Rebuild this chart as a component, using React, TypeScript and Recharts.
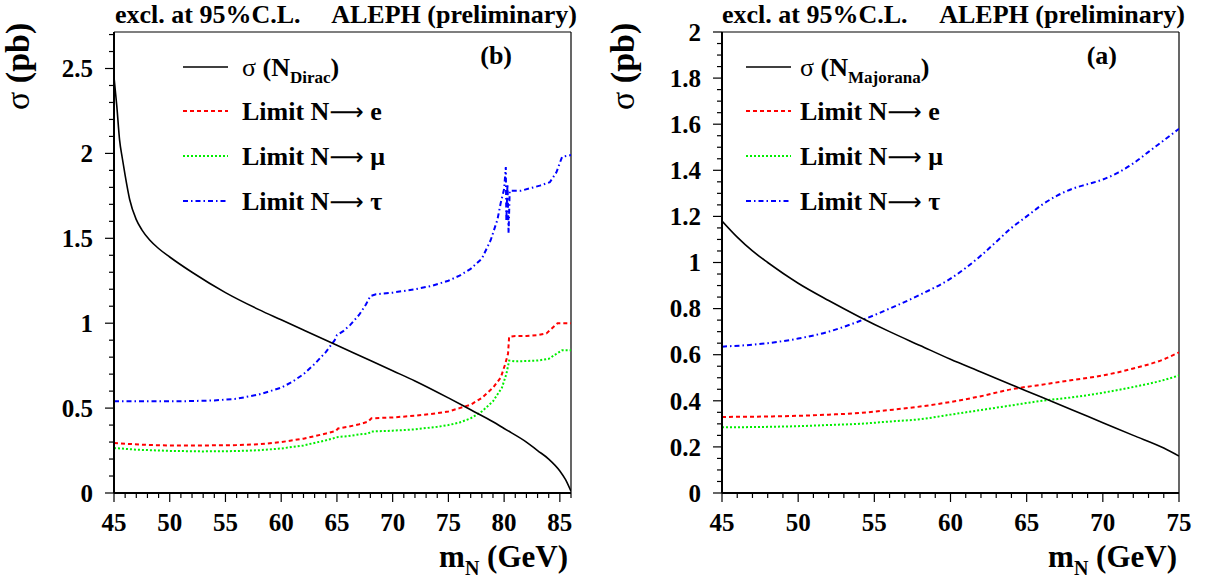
import { Line, LineChart, ReferenceLine, XAxis, YAxis } from 'recharts';

const FONT = "'Liberation Serif', 'Times New Roman', Times, 'DejaVu Serif', serif";

// (b) Dirac neutrino, m_N in GeV vs sigma in pb
const diracSigma: [number, number][] = [
  [45, 2.45], [45.25, 2.28], [45.5, 2.08], [45.75, 1.97], [46, 1.87], [46.4, 1.73], [47, 1.61],
  [47.5, 1.55], [48.2, 1.49], [49, 1.44], [50, 1.39], [52, 1.3], [55, 1.18], [58, 1.08],
  [60, 1.02], [62, 0.96], [65, 0.87], [68, 0.78], [70, 0.72], [72, 0.66], [75, 0.56],
  [77, 0.49], [79, 0.42], [80, 0.38], [82, 0.3], [83, 0.25], [84, 0.2], [85, 0.13],
  [85.5, 0.08], [86, 0.01]
];
const diracE: [number, number][] = [
  [45, 0.295], [46, 0.29], [48, 0.283], [50, 0.28], [53, 0.28], [56, 0.282], [58, 0.287],
  [60, 0.3], [62, 0.32], [64, 0.35], [64.9, 0.365], [65.1, 0.38], [66, 0.39], [67, 0.405],
  [67.8, 0.42], [68.1, 0.44], [70, 0.445], [72, 0.455], [74, 0.47], [75, 0.48], [76, 0.5],
  [77, 0.52], [78, 0.56], [79, 0.62], [79.7, 0.68], [80.1, 0.76], [80.35, 0.82], [80.45, 0.92],
  [81, 0.925], [82, 0.925], [83, 0.93], [83.8, 0.94], [84.3, 0.97], [84.8, 1.0], [86, 1.0]
];
const diracMu: [number, number][] = [
  [45, 0.265], [47, 0.255], [50, 0.248], [53, 0.245], [56, 0.247], [58, 0.252], [60, 0.262],
  [62, 0.28], [64, 0.31], [65.1, 0.33], [66, 0.335], [67, 0.345], [67.8, 0.35], [68.1, 0.362],
  [70, 0.367], [72, 0.375], [74, 0.39], [75, 0.4], [76, 0.415], [77, 0.44], [78, 0.48],
  [79, 0.54], [79.8, 0.62], [80.2, 0.7], [80.45, 0.78], [81, 0.775], [83, 0.78], [84, 0.79],
  [84.7, 0.82], [85.2, 0.84], [86, 0.84]
];
const diracTau: [number, number][] = [
  [45, 0.54], [48, 0.54], [51, 0.54], [54, 0.545], [56, 0.555], [58, 0.58], [60, 0.62],
  [61, 0.655], [62, 0.7], [63, 0.76], [64, 0.83], [64.8, 0.9], [65, 0.93], [65.6, 0.955],
  [66.2, 0.99], [67, 1.05], [67.6, 1.11], [68, 1.16], [68.5, 1.17], [70, 1.18], [72, 1.2],
  [73.5, 1.22], [75, 1.25], [76, 1.28], [77, 1.32], [78, 1.38], [78.8, 1.49], [79.4, 1.61],
  [79.7, 1.71], [80, 1.79], [80.15, 1.92], [80.2, 1.6], [80.3, 1.82], [80.4, 1.53], [80.5, 1.78],
  [81.5, 1.78], [83.2, 1.81], [84.1, 1.83], [84.7, 1.89], [85.2, 1.98], [86, 1.99]
];

// (a) Majorana neutrino
const majSigma: [number, number][] = [
  [45, 1.18], [46, 1.11], [47, 1.05], [48, 1.0], [50, 0.91], [52, 0.835], [54, 0.765],
  [56, 0.7], [58, 0.64], [60, 0.58], [62, 0.525], [64, 0.47], [66, 0.415], [68, 0.36],
  [70, 0.305], [72, 0.25], [74, 0.195], [75, 0.16]
];
const majE: [number, number][] = [
  [45, 0.33], [48, 0.332], [50, 0.335], [52, 0.34], [54, 0.347], [56, 0.36], [58, 0.375],
  [60, 0.395], [62, 0.42], [64, 0.45], [66, 0.47], [68, 0.49], [70, 0.51], [72, 0.54],
  [74, 0.58], [75, 0.61]
];
const majMu: [number, number][] = [
  [45, 0.285], [48, 0.287], [50, 0.29], [52, 0.295], [54, 0.3], [56, 0.31], [58, 0.32],
  [60, 0.34], [62, 0.36], [64, 0.38], [66, 0.4], [68, 0.415], [70, 0.435], [72, 0.46],
  [74, 0.49], [75, 0.51]
];
const majTau: [number, number][] = [
  [45, 0.635], [48, 0.65], [50, 0.67], [52, 0.7], [54, 0.745], [56, 0.8], [58, 0.86],
  [60, 0.93], [62, 1.03], [63, 1.09], [64, 1.15], [65, 1.2], [66, 1.25], [67, 1.29],
  [68, 1.32], [69, 1.34], [70, 1.36], [71, 1.39], [72, 1.43], [73, 1.48], [74, 1.53], [75, 1.58]
];

const LEFT_YMAX = 2.715;

const steps = (from: number, to: number, step: number) => {
  const out: number[] = [];
  for (let i = 0; from + i * step <= to + 1e-9; i++) out.push(Math.round((from + i * step) * 1000) / 1000);
  return out;
};
const leftXTicks = steps(45, 86, 1);
const leftYTicks = steps(0, 2.7, 0.1);
const rightXTicks = steps(45, 75, 1);
const rightYTicks = steps(0, 2, 0.05);

const toPoints = (pairs: [number, number][]) => pairs.map(([m, v]) => ({ m, v }));
const isMult = (v: number, step: number) => Math.abs(v / step - Math.round(v / step)) < 1e-6;
const fmt = (v: number) => String(Math.round(v * 100) / 100);

const textStyle = { fontFamily: FONT, fontWeight: 'bold' as const };

const makeXTick = (major: number) => (props: any) => {
  const { x, y, payload } = props;
  const big = isMult(payload.value, major);
  return (
    <g>
      <line x1={x} x2={x} y1={y} y2={y + (big ? 9 : 5)} stroke="#000" strokeWidth={1.2} />
      {big && (
        <text x={x} y={y + 38} textAnchor="middle" style={{ ...textStyle, fontSize: 25 }} fill="#000">
          {fmt(payload.value)}
        </text>
      )}
    </g>
  );
};

const makeYTick = (major: number) => (props: any) => {
  const { x, y, payload } = props;
  const big = isMult(payload.value, major);
  return (
    <g>
      <line x1={x} x2={x - (big ? 9 : 5)} y1={y} y2={y} stroke="#000" strokeWidth={1.2} />
      {big && (
        <text x={x - 21} y={y} dy="0.35em" textAnchor="end" style={{ ...textStyle, fontSize: 25 }} fill="#000">
          {fmt(payload.value)}
        </text>
      )}
    </g>
  );
};

const STYLES = {
  sigma: { stroke: '#000000', strokeWidth: 1.6, dash: undefined },
  e: { stroke: '#ff0000', strokeWidth: 2, dash: '4 3' },
  mu: { stroke: '#00ee00', strokeWidth: 2, dash: '2 2' },
  tau: { stroke: '#0000ff', strokeWidth: 2, dash: '5 3 1.5 3' }
};

function series(pairs: [number, number][], key: keyof typeof STYLES, type: 'linear' | 'monotone') {
  const s = STYLES[key];
  return (
    <Line
      key={key}
      data={toPoints(pairs)}
      dataKey="v"
      type={type}
      stroke={s.stroke}
      strokeWidth={s.strokeWidth}
      strokeDasharray={s.dash}
      dot={false}
      activeDot={false}
      isAnimationActive={false}
    />
  );
}

function Legend({ lineX, textX, rows, sub }: { lineX: number; textX: number; rows: number[]; sub: string }) {
  const keys: (keyof typeof STYLES)[] = ['sigma', 'e', 'mu', 'tau'];
  const labels = ['', 'e', 'μ', 'τ'];
  return (
    <g>
      {keys.map((k, i) => (
        <line
          key={k}
          x1={lineX}
          x2={lineX + 45}
          y1={rows[i]}
          y2={rows[i]}
          stroke={STYLES[k].stroke}
          strokeWidth={STYLES[k].strokeWidth}
          strokeDasharray={STYLES[k].dash}
        />
      ))}
      <text x={textX} y={rows[0] + 9} style={{ ...textStyle, fontSize: 26 }} fill="#000">
        <tspan style={{ fontWeight: 'normal' }}>σ</tspan>
        <tspan> (N</tspan>
        <tspan style={{ fontSize: 17 }} dy={7}>{sub}</tspan>
        <tspan dy={-7}>)</tspan>
      </text>
      {[1, 2, 3].map((i) => (
        <text key={i} x={textX} y={rows[i] + 9} style={{ ...textStyle, fontSize: 26 }} fill="#000">
          Limit N<tspan style={{ fontFamily: "'DejaVu Sans', sans-serif", fontWeight: 'normal', fontSize: 24 }}>⟶</tspan> {labels[i]}
        </text>
      ))}
    </g>
  );
}

export default function App() {
  const frame = { stroke: '#000', strokeWidth: 1.2 };
  const axisLine = { stroke: '#000', strokeWidth: 2 };
  return (
    <div style={{ position: 'absolute', left: 0, top: 0, width: 1210, height: 581, background: '#fff', fontFamily: FONT }}>
      <div style={{ position: 'absolute', left: 0, top: 0 }}>
        <LineChart width={600} height={581} margin={{ top: 32, right: 29, bottom: 0, left: 0 }}>
          <XAxis
            type="number"
            dataKey="m"
            domain={[45, 86]}
            ticks={leftXTicks}
            interval={0}
            tickLine={false}
            tickSize={0}
            tickMargin={0}
            tick={makeXTick(5)}
            axisLine={axisLine}
            height={88}
            allowDataOverflow
          />
          <YAxis
            type="number"
            domain={[0, LEFT_YMAX]}
            ticks={leftYTicks}
            interval={0}
            tickLine={false}
            tickSize={0}
            tickMargin={0}
            tick={makeYTick(0.5)}
            axisLine={axisLine}
            width={114}
            allowDataOverflow
          />
          <ReferenceLine y={LEFT_YMAX} {...frame} />
          <ReferenceLine x={86} {...frame} />
          {series(diracTau, 'tau', 'linear')}
          {series(diracMu, 'mu', 'linear')}
          {series(diracE, 'e', 'linear')}
          {series(diracSigma, 'sigma', 'monotone')}
        </LineChart>
      </div>
      <div style={{ position: 'absolute', left: 600, top: 0 }}>
        <LineChart width={610} height={581} margin={{ top: 32, right: 31, bottom: 0, left: 0 }}>
          <XAxis
            type="number"
            dataKey="m"
            domain={[45, 75]}
            ticks={rightXTicks}
            interval={0}
            tickLine={false}
            tickSize={0}
            tickMargin={0}
            tick={makeXTick(5)}
            axisLine={axisLine}
            height={88}
            allowDataOverflow
          />
          <YAxis
            type="number"
            domain={[0, 2]}
            ticks={rightYTicks}
            interval={0}
            tickLine={false}
            tickSize={0}
            tickMargin={0}
            tick={makeYTick(0.2)}
            axisLine={axisLine}
            width={122}
            allowDataOverflow
          />
          <ReferenceLine y={2} {...frame} />
          <ReferenceLine x={75} {...frame} />
          {series(majTau, 'tau', 'monotone')}
          {series(majMu, 'mu', 'monotone')}
          {series(majE, 'e', 'monotone')}
          {series(majSigma, 'sigma', 'monotone')}
        </LineChart>
      </div>
      <svg
        width={1210}
        height={581}
        style={{ position: 'absolute', left: 0, top: 0, pointerEvents: 'none', fontFamily: FONT }}
      >
        {[{ l: 115, r: 577 }, { l: 722, r: 1185 }].map((t, i) => (
          <g key={i} style={{ ...textStyle, fontSize: 26 }} fill="#000">
            <text x={t.l} y={23}>excl. at 95%C.L.</text>
            <text x={t.r} y={23} textAnchor="end">ALEPH (preliminary)</text>
          </g>
        ))}
        {[29, 634].map((bx) => (
          <text key={bx} transform={`translate(${bx},110) rotate(-90)`} style={{ ...textStyle, fontSize: 34 }} fill="#000">
            <tspan style={{ fontWeight: 'normal' }}>σ</tspan> (pb)
          </text>
        ))}
        {[568, 1177].map((ex) => (
          <text key={ex} x={ex} y={567} textAnchor="end" style={{ ...textStyle, fontSize: 31 }} fill="#000">
            m<tspan style={{ fontSize: 20 }} dy={8}>N</tspan>
            <tspan dy={-8}> (GeV)</tspan>
          </text>
        ))}
        <text x={512} y={64} textAnchor="end" style={{ ...textStyle, fontSize: 26 }}>(b)</text>
        <text x={1117} y={64} textAnchor="end" style={{ ...textStyle, fontSize: 26 }}>(a)</text>
        <Legend lineX={183} textX={242} rows={[67, 111, 156, 201]} sub="Dirac" />
        <Legend lineX={746} textX={800} rows={[67, 111, 156, 201]} sub="Majorana" />
      </svg>
    </div>
  );
}
